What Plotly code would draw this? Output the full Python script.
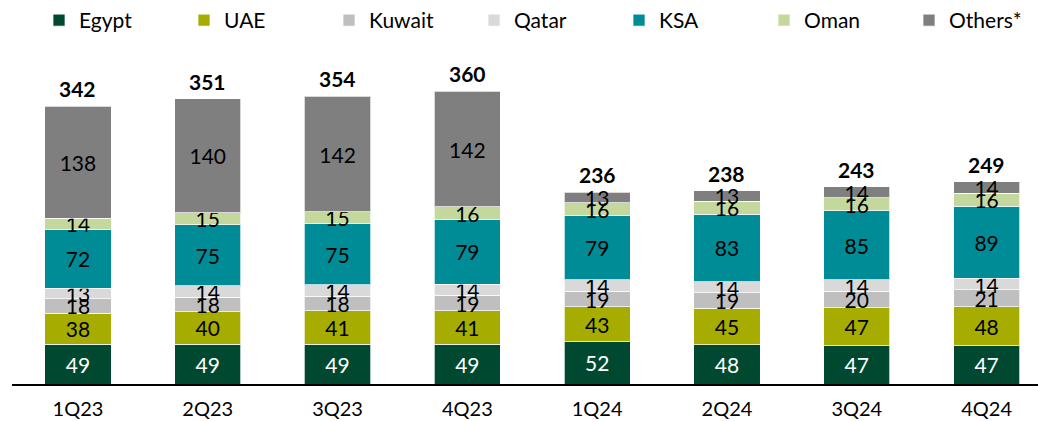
import plotly.graph_objects as go

quarters = ["1Q23", "2Q23", "3Q23", "4Q23", "1Q24", "2Q24", "3Q24", "4Q24"]
egypt = [49, 49, 49, 49, 52, 48, 47, 47]
uae = [38, 40, 41, 41, 43, 45, 47, 48]
kuwait = [18, 18, 18, 19, 19, 19, 20, 21]
qatar = [13, 14, 14, 14, 14, 14, 14, 14]
ksa = [72, 75, 75, 79, 79, 83, 85, 89]
oman = [14, 15, 15, 16, 16, 16, 16, 16]
others = [138, 140, 142, 142, 13, 13, 14, 14]
totals = [342, 351, 354, 360, 236, 238, 243, 249]

series = [
    ("Egypt", egypt, "#004930", "white"),
    ("UAE", uae, "#A6AD00", "black"),
    ("Kuwait", kuwait, "#BFBFBF", "black"),
    ("Qatar", qatar, "#D9D9D9", "black"),
    ("KSA", ksa, "#008C97", "black"),
    ("Oman", oman, "#C4D89D", "black"),
    ("Others*", others, "#7F7F7F", "black"),
]

FONT = "Lato"

fig = go.Figure()
for name, vals, color, tcolor in series:
    fig.add_trace(go.Bar(
        x=quarters, y=vals, name=name,
        marker=dict(color=color, line=dict(color="rgba(255,255,255,0.7)", width=1)),
        width=0.51,
        text=[str(v) for v in vals],
        textposition="inside", insidetextanchor="middle",
        textangle=0, constraintext="none",
        textfont=dict(family=FONT, size=21, color=tcolor),
        hoverinfo="skip",
    ))

for q, t in zip(quarters, totals):
    fig.add_annotation(x=q, y=t, text=f"<b>{t}</b>", showarrow=False,
                       yanchor="bottom", yshift=3,
                       font=dict(family=FONT, size=21, color="black"))

fig.update_layout(
    barmode="stack",
    width=1038, height=421,
    margin=dict(l=12, r=0, t=50, b=37, autoexpand=False),
    paper_bgcolor="white", plot_bgcolor="white",
    font=dict(family=FONT, size=21, color="black"),
    showlegend=True,
    legend=dict(orientation="h", xref="container", yref="container",
                x=0.0376, y=1.0, xanchor="left", yanchor="top",
                entrywidth=100, entrywidthmode="pixels",
                font=dict(family=FONT, size=21, color="black"),
                traceorder="normal"),
    xaxis=dict(range=[-0.508, 7.396], showline=True, linecolor="black", linewidth=2,
               showgrid=False, ticks="", ticklabelstandoff=6, automargin=False,
               tickfont=dict(family=FONT, size=20, color="black")),
    yaxis=dict(range=[0, 411], visible=False, showgrid=False, zeroline=False,
               automargin=False),
)

fig.write_html("out.html", config={"displayModeBar": False},
               post_script="document.body.style.margin='0px';")
